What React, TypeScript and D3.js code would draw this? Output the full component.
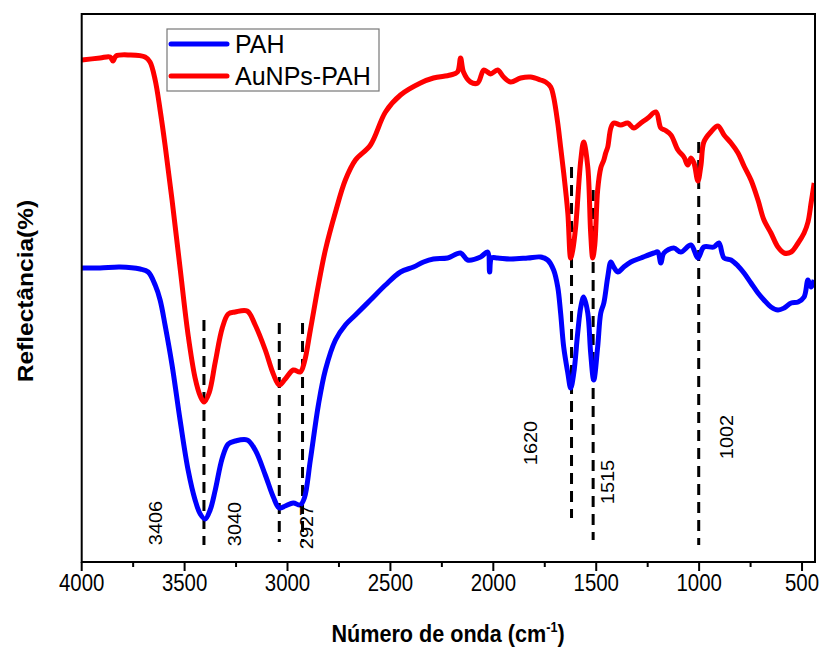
import React from "react";
import * as d3 from "d3";

// ---------- data ----------
// wavenumber (cm-1)
const redWave = [4000,3911,3862,3848,3833,3765,3692,3668,3643,3619,3595,3561,3522,3483,3449,3424,3405,3381,3351,3317,3288,3254,3196,3157,3108,3069,3040,3011,2972,2938,2918,2889,2850,2816,2767,2719,2670,2597,2524,2451,2354,2291,2208,2174,2159,2145,2111,2076,2047,2028,2013,1979,1950,1916,1867,1819,1770,1746,1721,1707,1687,1673,1658,1638,1624,1614,1600,1575,1561,1541,1527,1517,1507,1493,1478,1463,1454,1444,1429,1415,1381,1347,1317,1283,1249,1210,1186,1167,1137,1103,1074,1055,1040,1025,1006,991,977,943,909,879,845,811,782,748,714,685,651,617,587,553,519,490,471,456,441];
// AuNPs-PAH reflectance (a.u.)
const redVal = [50.2,50.4,50.5,50.1,50.6,50.7,50.5,50.0,48.2,45.2,41.7,36.2,29.4,22.7,18.4,16.6,16.0,16.9,20.0,23.4,24.8,25.0,25.1,23.7,21.2,18.8,17.7,18.3,19.2,19.0,20.0,23.2,27.7,31.2,35.0,38.2,40.2,41.7,45.0,46.7,47.9,48.4,48.7,49.0,50.4,49.0,48.0,47.9,49.2,49.0,48.8,49.2,48.5,48.0,48.4,48.5,48.2,48.0,47.5,46.5,43.9,41.5,38.9,34.9,30.4,31.2,33.5,40.2,42.0,39.5,32.9,30.4,31.7,37.2,39.4,40.2,40.9,41.5,43.4,43.9,43.7,43.9,43.4,43.9,44.4,45.0,43.4,43.2,42.7,41.2,40.5,39.7,40.4,39.9,38.1,39.7,42.0,43.0,43.6,42.7,41.9,40.9,39.6,38.2,36.2,34.2,32.9,31.5,30.9,31.0,31.9,32.9,34.0,35.9,37.9];

const blueWave = [4000,3911,3814,3716,3677,3643,3619,3595,3561,3522,3483,3449,3424,3400,3376,3351,3317,3288,3254,3196,3157,3108,3069,3040,3011,2972,2938,2918,2889,2850,2816,2767,2719,2670,2597,2524,2451,2388,2339,2291,2222,2159,2125,2062,2028,2018,2008,1979,1916,1833,1770,1736,1707,1687,1673,1658,1638,1624,1609,1590,1575,1561,1541,1527,1512,1493,1478,1463,1444,1429,1415,1395,1366,1332,1283,1220,1201,1186,1171,1123,1089,1040,1006,977,928,904,879,845,811,782,748,714,685,651,617,587,553,519,490,471,456,441];
// PAH reflectance (a.u.)
const blueVal = [29.4,29.4,29.5,29.3,29.0,27.7,26.2,23.7,19.7,14.2,9.2,6.2,4.8,4.3,5.2,7.2,10.4,11.8,12.1,12.2,11.2,8.7,6.5,5.4,5.6,5.9,5.7,6.4,10.2,15.7,19.2,22.2,23.7,24.7,26.2,27.7,29.0,29.5,30.0,30.3,30.4,30.9,30.2,30.5,31.0,29.0,30.4,30.4,30.3,30.4,30.5,30.2,29.2,27.5,24.9,21.5,18.9,17.4,18.9,22.9,25.5,26.5,24.9,20.9,18.2,21.5,24.9,25.9,28.5,30.0,29.5,29.0,29.5,30.0,30.4,30.9,31.0,29.9,30.9,31.4,31.0,31.7,30.4,31.5,31.5,31.9,30.4,30.2,29.6,28.9,27.9,26.9,26.2,25.5,25.2,25.4,25.9,26.0,26.5,28.2,27.5,28.2];

const seriesNames = ["PAH", "AuNPs-PAH"];

// marked bands
const peakWave = [3406, 3040, 2927, 1620, 1515, 1002];
const peakTop = [24.2, 23.9, 23.9, 39.5, 37.2, 42.0];
const peakBottom = [1.7, 2.0, 2.0, 4.4, 2.2, 1.7];
const peakLabels = ["3406", "3040", "2927", "1620", "1515", "1002"];
const labelWave = [3641, 3254, 2904, 1819, 1444, 865];
const labelVal = [3.9, 3.8, 3.5, 11.9, 8.0, 12.5];

const xTicks = [4000, 3500, 3000, 2500, 2000, 1500, 1000, 500];
const xMinorTicks = [3750, 3250, 2750, 2250, 1750, 1250, 750];

// ---------- layout ----------
const W = 819, H = 648;
const L = 81.7, R = 815, T = 14, B = 562;
const FONT = "'Liberation Sans', Arial, sans-serif";

export default function App() {
  const x = d3.scaleLinear().domain([4000, 437]).range([L, R]);
  const y = d3.scaleLinear().domain([0, 54.8]).range([B, T]);

  const line = d3
    .line<[number, number]>()
    .x((d) => x(d[0]))
    .y((d) => y(d[1]))
    .curve(d3.curveCatmullRom.alpha(0.5));

  const redPts = redWave.map((w, i) => [w, redVal[i]] as [number, number]);
  const bluePts = blueWave.map((w, i) => [w, blueVal[i]] as [number, number]);

  return (
    <svg
      width={W}
      height={H}
      style={{ position: "absolute", left: 0, top: 0, background: "#fff" }}
      fontFamily={FONT}
    >
      <rect x={0} y={0} width={W} height={H} fill="#fff" />
      <defs>
        <clipPath id="plot">
          <rect x={L} y={T} width={R - L} height={B - T} />
        </clipPath>
      </defs>

      {/* dashed band markers */}
      {peakWave.map((w, i) => (
        <line
          key={"d" + i}
          x1={x(w)}
          x2={x(w)}
          y1={y(peakTop[i])}
          y2={y(peakBottom[i])}
          stroke="#000"
          strokeWidth={3}
          strokeDasharray="11,7"
        />
      ))}

      <g clipPath="url(#plot)">
        <path d={line(bluePts) || ""} fill="none" stroke="#0000ff" strokeWidth={5} strokeLinejoin="round" />
        <path d={line(redPts) || ""} fill="none" stroke="#ff0000" strokeWidth={5} strokeLinejoin="round" />
      </g>

      {/* peak labels */}
      {peakLabels.map((t, i) => (
        <text
          key={"l" + i}
          transform={`translate(${x(labelWave[i])},${y(labelVal[i])}) rotate(-90) scale(1,0.92)`}
          textAnchor="middle"
          dominantBaseline="central"
          fontSize={20}
          fill="#000"
        >
          {t}
        </text>
      ))}

      {/* frame */}
      <rect x={L} y={T} width={R - L} height={B - T} fill="none" stroke="#000" strokeWidth={2} />

      {/* x axis ticks */}
      {xTicks.map((t) => (
        <g key={"t" + t}>
          <line x1={x(t)} x2={x(t)} y1={B} y2={B + 9} stroke="#000" strokeWidth={2} />
          <text
            transform={`translate(${x(t)},591) scale(0.85,1)`}
            textAnchor="middle"
            fontSize={24}
            fill="#000"
          >
            {t}
          </text>
        </g>
      ))}
      {xMinorTicks.map((t) => (
        <line key={"m" + t} x1={x(t)} x2={x(t)} y1={B} y2={B + 5} stroke="#000" strokeWidth={2} />
      ))}

      {/* axis titles */}
      <text
        transform="translate(448,642) scale(0.9,1)"
        textAnchor="middle"
        fontSize={24}
        fontWeight="bold"
        fill="#000"
      >
        Número de onda (cm
        <tspan fontSize={14} dy={-10}>-1</tspan>
        <tspan dy={10}>)</tspan>
      </text>
      <text
        transform={`translate(25,291) rotate(-90) scale(1,0.9)`}
        textAnchor="middle"
        dominantBaseline="central"
        fontSize={24.5}
        fontWeight="bold"
        fill="#000"
      >
        Reflectância(%)
      </text>

      {/* legend */}
      <rect x={167} y={29} width={212} height={62} fill="#fff" stroke="#777" strokeWidth={1.2} />
      {seriesNames.map((n, i) => (
        <g key={n}>
          <line
            x1={171}
            x2={227}
            y1={44 + i * 32}
            y2={44 + i * 32}
            stroke={i === 0 ? "#0000ff" : "#ff0000"}
            strokeWidth={5}
            strokeLinecap="round"
          />
          <text x={235} y={53 + i * 32} fontSize={25} fill="#000">
            {n}
          </text>
        </g>
      ))}
    </svg>
  );
}
